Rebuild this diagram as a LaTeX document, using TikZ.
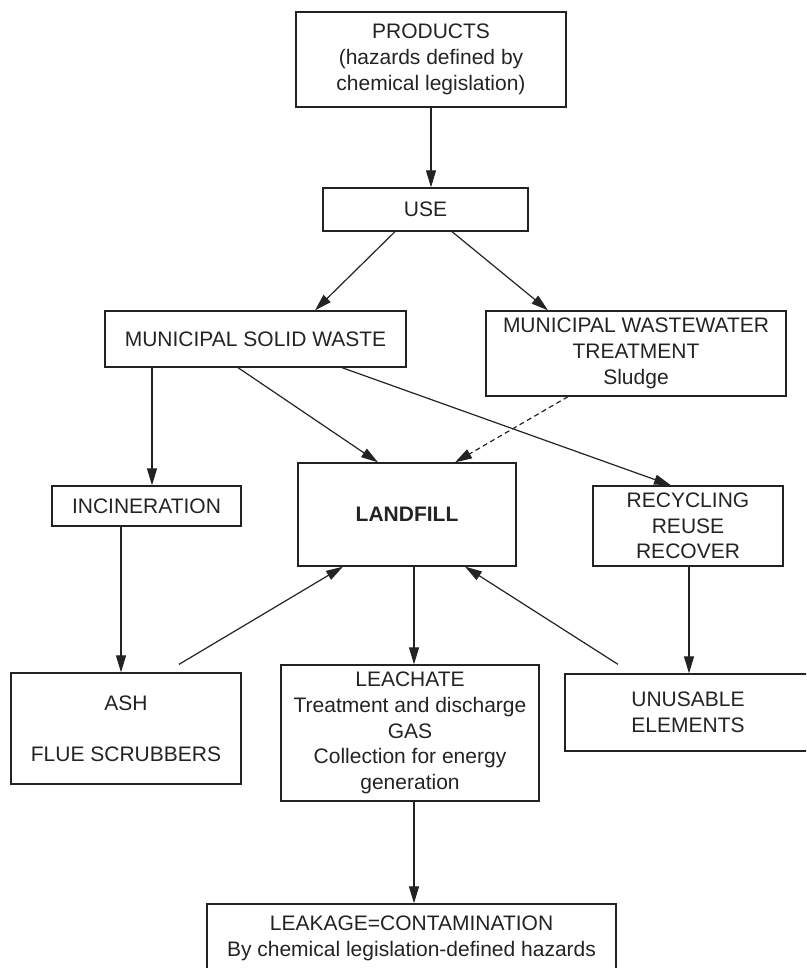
\documentclass[tikz,border=0pt]{standalone}
\usepackage{fontspec}
\setmainfont{Liberation Sans}
\usetikzlibrary{arrows.meta}
\definecolor{ink}{RGB}{35,35,35}
\begin{document}
\begin{tikzpicture}[x=1pt,y=-1pt,
  box/.style={draw=ink,line width=1.3pt,text=ink,inner sep=0pt,align=center,
    font=\fontsize{21}{25.7}\selectfont},
  flow/.style={draw=ink,line width=1.2pt,-{Triangle[length=17pt,width=10pt]}},
  dashflow/.style={flow,dash pattern=on 5pt off 3.5pt}]
\useasboundingbox (0,0) rectangle (806,968);
\clip (0,0) rectangle (806,968);

% boxes
\node[box,minimum width=270pt,minimum height=95pt] (products) at (431,59.5)
  {PRODUCTS\\(hazards defined by\\chemical legislation)};
\node[box,minimum width=205pt,minimum height=43pt] (use) at (425.5,209.5) {USE};
\node[box,minimum width=301pt,minimum height=56pt] (msw) at (255.5,339) {MUNICIPAL SOLID WASTE};
\node[box,minimum width=300pt,minimum height=85pt] (mwt) at (636,353.5)
  {MUNICIPAL WASTEWATER\\TREATMENT\\Sludge};
\node[box,minimum width=189pt,minimum height=40pt] (incin) at (146.5,506) {INCINERATION};
\node[box,minimum width=218pt,minimum height=103pt] (landfill) at (407,514.5) {\bfseries LANDFILL};
\node[box,minimum width=190pt,minimum height=80pt] (recyc) at (688,526)
  {RECYCLING\\REUSE\\RECOVER};
\node[box,minimum width=230pt,minimum height=111pt] (ash) at (126,728.5)
  {ASH\\[25.7pt]FLUE SCRUBBERS};
\node[box,minimum width=258pt,minimum height=136pt] (leach) at (410,733)
  {LEACHATE\\Treatment and discharge\\GAS\\Collection for energy\\generation};
\node[box,minimum width=246pt,minimum height=77pt] (unusable) at (688,712.5)
  {UNUSABLE\\ELEMENTS};
\node[box,minimum width=409pt,minimum height=69pt] (leakage) at (411.5,938.5)
  {LEAKAGE=CONTAMINATION\\By chemical legislation-defined hazards};

% free ends of the two return connectors
\coordinate (ashout) at ([xshift=53pt,yshift=8pt]ash.north);
\coordinate (unout) at ([xshift=-70pt,yshift=9pt]unusable.north);

% connectors
\draw[flow] (products.south) -- ([xshift=5.5pt]use.north);
\draw[flow] ([xshift=-30.5pt]use.south) -- ([xshift=59.5pt]msw.north);
\draw[flow] ([xshift=26.5pt]use.south) -- ([xshift=-88pt]mwt.north);
\draw[flow] ([xshift=-103.5pt]msw.south) -- ([xshift=5.5pt]incin.north);
\draw[flow] ([xshift=-17.5pt]msw.south) -- ([xshift=-29pt]landfill.north);
\draw[flow] ([xshift=86.5pt]msw.south) -- ([xshift=-17pt]recyc.north);
\draw[dashflow] ([xshift=-68pt]mwt.south) -- ([xshift=48pt]landfill.north);
\draw[flow] ([xshift=-25.5pt]incin.south) -- ([xshift=-5pt]ash.north);
\draw[flow] (ashout) -- ([xshift=-64pt]landfill.south);
\draw[flow] ([xshift=7pt]landfill.south) -- ([xshift=4pt]leach.north);
\draw[flow] ([xshift=1pt]recyc.south) -- ([xshift=1pt]unusable.north);
\draw[flow] (unout) -- ([xshift=58pt]landfill.south);
\draw[flow] ([xshift=4pt]leach.south) -- ([xshift=2.5pt]leakage.north);
\end{tikzpicture}
\end{document}
